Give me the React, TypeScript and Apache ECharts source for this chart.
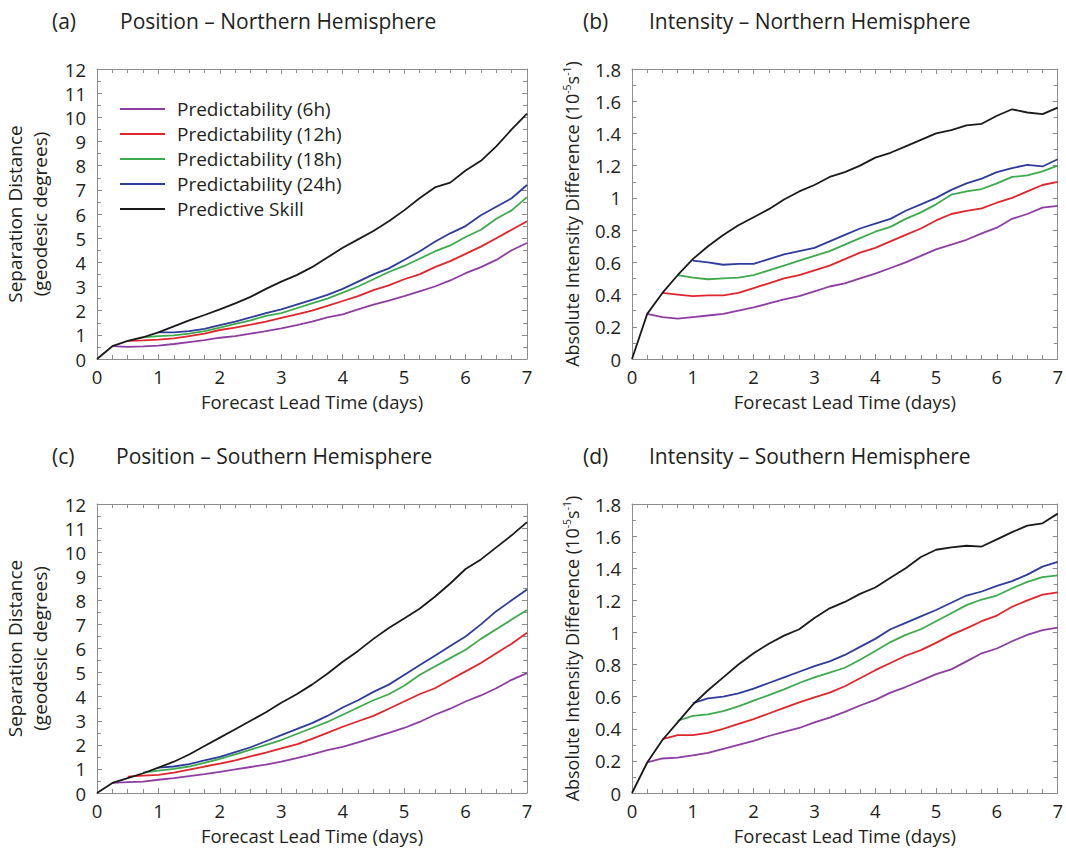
import React, { useEffect, useRef } from "react";
import * as echarts from "echarts";

const days = [0, 0.25, 0.5, 0.75, 1, 1.25, 1.5, 1.75, 2, 2.25, 2.5, 2.75, 3, 3.25, 3.5, 3.75, 4, 4.25, 4.5, 4.75, 5, 5.25, 5.5, 5.75, 6, 6.25, 6.5, 6.75, 7];

const seriesNames = ["Predictability (6h)", "Predictability (12h)", "Predictability (18h)", "Predictability (24h)", "Predictive Skill"];

// (a) Position – Northern Hemisphere
const a6h = [null, 0.53, 0.5, 0.52, 0.55, 0.62, 0.7, 0.78, 0.88, 0.95, 1.05, 1.15, 1.27, 1.4, 1.55, 1.72, 1.85, 2.05, 2.25, 2.42, 2.6, 2.8, 3.0, 3.25, 3.55, 3.8, 4.1, 4.5, 4.8];
const a12h = [null, null, 0.75, 0.77, 0.8, 0.85, 0.95, 1.05, 1.2, 1.3, 1.42, 1.55, 1.7, 1.85, 2.0, 2.2, 2.4, 2.6, 2.85, 3.05, 3.3, 3.5, 3.8, 4.05, 4.35, 4.65, 5.0, 5.35, 5.7];
const a18h = [null, null, null, 0.9, 0.95, 0.98, 1.05, 1.15, 1.3, 1.45, 1.6, 1.78, 1.9, 2.1, 2.3, 2.5, 2.75, 3.0, 3.3, 3.6, 3.85, 4.15, 4.45, 4.7, 5.05, 5.35, 5.8, 6.15, 6.7];
const a24h = [null, null, null, null, 1.1, 1.1, 1.15, 1.25, 1.4, 1.55, 1.72, 1.9, 2.05, 2.25, 2.45, 2.65, 2.9, 3.2, 3.5, 3.75, 4.1, 4.45, 4.85, 5.2, 5.5, 5.95, 6.3, 6.65, 7.2];
const aSkill = [0, 0.53, 0.75, 0.9, 1.1, 1.35, 1.6, 1.82, 2.05, 2.3, 2.57, 2.9, 3.2, 3.47, 3.8, 4.2, 4.6, 4.95, 5.3, 5.7, 6.15, 6.65, 7.1, 7.3, 7.8, 8.2, 8.8, 9.5, 10.15];

// (b) Intensity – Northern Hemisphere
const b6h = [null, 0.28, 0.26, 0.25, 0.26, 0.27, 0.28, 0.3, 0.32, 0.345, 0.37, 0.39, 0.42, 0.45, 0.47, 0.5, 0.53, 0.565, 0.6, 0.64, 0.68, 0.71, 0.74, 0.78, 0.815, 0.87, 0.9, 0.94, 0.95];
const b12h = [null, null, 0.41, 0.4, 0.39, 0.395, 0.395, 0.41, 0.44, 0.47, 0.5, 0.52, 0.55, 0.58, 0.62, 0.66, 0.69, 0.73, 0.77, 0.81, 0.86, 0.9, 0.92, 0.935, 0.97, 1.0, 1.04, 1.08, 1.1];
const b18h = [null, null, null, 0.52, 0.505, 0.495, 0.5, 0.505, 0.52, 0.55, 0.58, 0.61, 0.64, 0.67, 0.71, 0.75, 0.79, 0.82, 0.87, 0.91, 0.96, 1.02, 1.04, 1.055, 1.09, 1.13, 1.14, 1.165, 1.2];
const b24h = [null, null, null, null, 0.61, 0.6, 0.585, 0.59, 0.59, 0.62, 0.65, 0.67, 0.69, 0.73, 0.77, 0.81, 0.84, 0.87, 0.92, 0.96, 1.0, 1.05, 1.09, 1.12, 1.16, 1.185, 1.205, 1.195, 1.24];
const bSkill = [0, 0.28, 0.41, 0.52, 0.62, 0.7, 0.77, 0.83, 0.88, 0.93, 0.99, 1.04, 1.08, 1.13, 1.16, 1.2, 1.25, 1.28, 1.32, 1.36, 1.4, 1.42, 1.45, 1.46, 1.51, 1.55, 1.53, 1.52, 1.56];

// (c) Position – Southern Hemisphere
const c6h = [null, 0.42, 0.45, 0.47, 0.55, 0.62, 0.7, 0.78, 0.88, 0.98, 1.08, 1.18, 1.3, 1.45, 1.6, 1.78, 1.92, 2.1, 2.3, 2.5, 2.7, 2.95, 3.25, 3.5, 3.8, 4.05, 4.35, 4.7, 4.98];
const c12h = [null, null, 0.68, 0.72, 0.75, 0.85, 0.97, 1.1, 1.22, 1.35, 1.52, 1.68, 1.85, 2.02, 2.25, 2.5, 2.75, 2.98, 3.2, 3.5, 3.8, 4.1, 4.35, 4.7, 5.05, 5.4, 5.8, 6.2, 6.65];
const c18h = [null, null, null, 0.85, 0.93, 1.0, 1.1, 1.25, 1.42, 1.6, 1.8, 2.0, 2.2, 2.45, 2.7, 2.95, 3.25, 3.55, 3.85, 4.1, 4.45, 4.9, 5.25, 5.6, 5.95, 6.4, 6.8, 7.2, 7.6];
const c24h = [null, null, null, null, 1.05, 1.1, 1.2, 1.35, 1.5, 1.7, 1.9, 2.15, 2.4, 2.65, 2.9, 3.2, 3.55, 3.85, 4.2, 4.5, 4.9, 5.3, 5.7, 6.1, 6.5, 7.0, 7.55, 8.0, 8.45];
const cSkill = [0, 0.42, 0.62, 0.82, 1.05, 1.3, 1.6, 1.95, 2.3, 2.65, 3.0, 3.35, 3.75, 4.1, 4.5, 4.95, 5.45, 5.9, 6.4, 6.85, 7.25, 7.65, 8.15, 8.7, 9.3, 9.7, 10.2, 10.7, 11.25];

// (d) Intensity – Southern Hemisphere
const d6h = [null, 0.19, 0.215, 0.22, 0.235, 0.25, 0.275, 0.3, 0.325, 0.355, 0.38, 0.405, 0.44, 0.47, 0.505, 0.545, 0.58, 0.625, 0.66, 0.7, 0.74, 0.77, 0.82, 0.87, 0.9, 0.945, 0.985, 1.015, 1.03];
const d12h = [null, null, 0.335, 0.36, 0.36, 0.375, 0.4, 0.43, 0.46, 0.495, 0.53, 0.565, 0.595, 0.625, 0.665, 0.715, 0.765, 0.81, 0.855, 0.89, 0.935, 0.985, 1.025, 1.07, 1.105, 1.16, 1.2, 1.235, 1.25];
const d18h = [null, null, null, 0.45, 0.48, 0.49, 0.51, 0.54, 0.575, 0.61, 0.645, 0.685, 0.72, 0.75, 0.78, 0.83, 0.885, 0.94, 0.985, 1.02, 1.07, 1.12, 1.17, 1.205, 1.23, 1.275, 1.315, 1.345, 1.355];
const d24h = [null, null, null, null, 0.56, 0.59, 0.6, 0.62, 0.65, 0.685, 0.72, 0.755, 0.79, 0.82, 0.86, 0.91, 0.96, 1.02, 1.06, 1.1, 1.14, 1.185, 1.23, 1.255, 1.29, 1.32, 1.36, 1.41, 1.44];
const dSkill = [0, 0.19, 0.33, 0.44, 0.55, 0.64, 0.72, 0.8, 0.87, 0.93, 0.98, 1.02, 1.09, 1.15, 1.19, 1.24, 1.28, 1.34, 1.4, 1.47, 1.515, 1.53, 1.54, 1.535, 1.58, 1.625, 1.665, 1.68, 1.74];

const panelLetters = ["(a)", "(b)", "(c)", "(d)"];
const panelTitles = ["Position – Northern Hemisphere", "Intensity – Northern Hemisphere", "Position – Southern Hemisphere", "Intensity – Southern Hemisphere"];
const xAxisTitle = "Forecast Lead Time (days)";
const posAxisTitle = "Separation Distance\n(geodesic degrees)";
const intAxisTitle = "Absolute Intensity Difference (10{sup|-5}s{sup|-1})";

const panels = [
  [a6h, a12h, a18h, a24h, aSkill],
  [b6h, b12h, b18h, b24h, bSkill],
  [c6h, c12h, c18h, c24h, cSkill],
  [d6h, d12h, d18h, d24h, dSkill],
];

const colors = ["#8f3da3", "#e0262b", "#3daa4c", "#2e3c9b", "#1a1a1a"];

const FONT = "Open Sans";
const TEXT = "#231f20";
const FRAME = "#8c8c8c";

const grids = [
  { left: 97, top: 69, width: 430, height: 290 },
  { left: 632, top: 69, width: 431, height: 290 },
  { left: 97, top: 504, width: 430, height: 289 },
  { left: 632, top: 504, width: 431, height: 289 },
];

const titlePos = [
  { lx: 52, tx: 120, y: 22 },
  { lx: 583, tx: 649, y: 22 },
  { lx: 52, tx: 116, y: 457 },
  { lx: 583, tx: 649, y: 457 },
];

export default function App() {
  const ref = useRef<HTMLDivElement>(null);
  useEffect(() => {
    if (!ref.current) return;
    const chart = echarts.init(ref.current, undefined, { renderer: "svg" });

    const xAxes: any[] = [];
    const yAxes: any[] = [];
    const series: any[] = [];
    const graphics: any[] = [];

    grids.forEach((g, i) => {
      const isPos = i % 2 === 0;
      const yMax = isPos ? 12 : 1.8;
      const yInt = isPos ? 1 : 0.2;
      const baseX = {
        type: "value",
        gridIndex: i,
        min: 0,
        max: 7,
        interval: 1,
        splitLine: { show: false },
        axisLine: { show: true, onZero: false, lineStyle: { color: FRAME, width: 1 } },
        axisTick: { show: true, inside: true, length: 5, lineStyle: { color: FRAME } },
        minorTick: { show: true, splitNumber: 4, length: 4, lineStyle: { color: FRAME } },
      };
      xAxes.push({
        ...baseX,
        position: "bottom",
        axisLabel: { show: true, fontFamily: FONT, fontSize: 18.5, color: TEXT, margin: 8 },
        name: xAxisTitle,
        nameLocation: "middle",
        nameGap: 33,
        nameTextStyle: { fontFamily: FONT, fontSize: 18.5, color: TEXT },
      });
      const baseY = {
        type: "value",
        gridIndex: i,
        min: 0,
        max: yMax,
        interval: yInt,
        splitLine: { show: false },
        axisLine: { show: true, onZero: false, lineStyle: { color: FRAME, width: 1 } },
        axisTick: { show: true, inside: true, length: 5, lineStyle: { color: FRAME } },
        minorTick: { show: true, splitNumber: 2, length: 4, lineStyle: { color: FRAME } },
      };
      yAxes.push({
        ...baseY,
        position: "left",
        axisLabel: { show: true, fontFamily: FONT, fontSize: 18.5, color: TEXT, margin: 11 },
        name: isPos ? posAxisTitle : intAxisTitle,
        nameLocation: "middle",
        nameRotate: 90,
        nameGap: isPos ? 45 : 50,
        nameTextStyle: {
          fontFamily: FONT,
          fontSize: isPos ? 19 : 18,
          color: TEXT,
          lineHeight: isPos ? 25 : 21,
          rich: {
            sup: { fontFamily: FONT, fontSize: 10.5, color: TEXT, verticalAlign: "top", lineHeight: 12 },
          },
        },
      });
    });
    grids.forEach((g, i) => {
      const isPos = i % 2 === 0;
      xAxes.push({
        type: "value",
        gridIndex: i,
        min: 0,
        max: 7,
        interval: 1,
        position: "top",
        splitLine: { show: false },
        axisLabel: { show: false },
        axisLine: { show: true, onZero: false, lineStyle: { color: FRAME, width: 1 } },
        axisTick: { show: true, inside: true, length: 5, lineStyle: { color: FRAME } },
        minorTick: { show: true, splitNumber: 4, length: 4, lineStyle: { color: FRAME } },
      });
      yAxes.push({
        type: "value",
        gridIndex: i,
        min: 0,
        max: isPos ? 12 : 1.8,
        interval: isPos ? 1 : 0.2,
        position: "right",
        splitLine: { show: false },
        axisLabel: { show: false },
        axisLine: { show: true, onZero: false, lineStyle: { color: FRAME, width: 1 } },
        axisTick: { show: true, inside: true, length: 5, lineStyle: { color: FRAME } },
        minorTick: { show: true, splitNumber: 2, length: 4, lineStyle: { color: FRAME } },
      });
    });

    panels.forEach((arrs, i) => {
      arrs.forEach((vals, k) => {
        const data: number[][] = [];
        vals.forEach((v, j) => {
          if (v !== null && v !== undefined) data.push([days[j], v as number]);
        });
        series.push({
          type: "line",
          name: seriesNames[k],
          xAxisIndex: i,
          yAxisIndex: i,
          data,
          symbol: "none",
          showSymbol: false,
          smooth: false,
          lineStyle: { color: colors[k], width: 1.8 },
          itemStyle: { color: colors[k] },
          z: k === 4 ? 3 : 2,
        });
      });
    });

    titlePos.forEach((p, i) => {
      graphics.push({
        type: "text",
        left: p.lx,
        top: p.y - 12,
        style: { text: panelLetters[i], font: `21px '${FONT}'`, fill: TEXT },
      });
      graphics.push({
        type: "text",
        left: p.tx,
        top: p.y - 12,
        style: { text: panelTitles[i], font: `21px '${FONT}'`, fill: TEXT },
      });
    });

    chart.setOption({
      animation: false,
      backgroundColor: "#ffffff",
      grid: grids.map((g) => ({ ...g, containLabel: false })),
      xAxis: xAxes,
      yAxis: yAxes,
      legend: {
        data: seriesNames,
        orient: "vertical",
        left: 115,
        top: 94,
        itemWidth: 45,
        itemHeight: 20,
        itemGap: 5,
        icon: "path://M0,9 L45,9 L45,11 L0,11 Z",
        textStyle: { fontFamily: FONT, fontSize: 19, color: TEXT, lineHeight: 20, padding: [0, 0, 0, 7] },
        selectedMode: false,
      },
      series,
      graphic: graphics,
    });
    return () => chart.dispose();
  }, []);
  return <div ref={ref} style={{ position: "absolute", left: 0, top: 0, width: 1066, height: 849 }} />;
}
